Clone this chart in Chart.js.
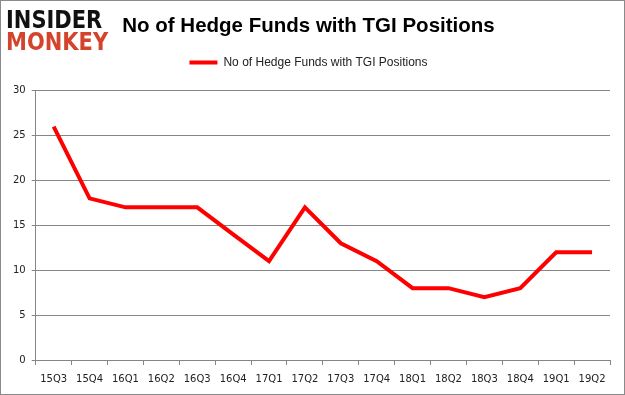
<!DOCTYPE html>
<html>
<head>
<meta charset="utf-8">
<script src="https://cdn.jsdelivr.net/npm/chart.js@4"></script>
<style>
  html, body { margin: 0; padding: 0; background: #fff; }
  #wrap { position: relative; width: 625px; height: 395px; box-sizing: border-box; border: 1px solid #8a8a8a; }
  #grafico { display: block; }
  .logo { position: absolute; left: 5px; font-family: "DejaVu Sans", sans-serif; font-weight: bold; font-size: 25px; line-height: 22px; transform: scaleX(0.84); transform-origin: left top; }
  #logo1 { top: 8px; color: #111; }
  #logo2 { top: 30px; color: #d4432c; }
</style>
</head>
<body>
<div id="wrap">
  <canvas id="grafico" width="623" height="393"></canvas>
  <div class="logo" id="logo1">INSIDER</div>
  <div class="logo" id="logo2">MONKEY</div>
</div>
<script>
  // Dados do gráfico
  const trimestres = ['15Q3', '15Q4', '16Q1', '16Q2', '16Q3', '16Q4', '17Q1', '17Q2',
                      '17Q3', '17Q4', '18Q1', '18Q2', '18Q3', '18Q4', '19Q1', '19Q2'];
  const fundos = [26, 18, 17, 17, 17, 14, 11, 17, 13, 11, 8, 8, 7, 8, 12, 12];
  const rotuloSerie = 'No of Hedge Funds with TGI Positions';
  const tituloGrafico = 'No of Hedge Funds with TGI Positions';

  const corEixo = '#868686';
  const fonteTicks = { family: 'DejaVu Sans', size: 10 };

  // Espaço extra abaixo da legenda
  const espacoLegenda = {
    id: 'espacoLegenda',
    beforeInit(chart) {
      const fitOriginal = chart.legend.fit;
      chart.legend.fit = function() {
        fitOriginal.bind(chart.legend)();
        this.height += 12;
      };
    }
  };

  const ctx = document.getElementById('grafico').getContext('2d');
  const chart = new Chart(ctx, {
    type: 'line',
    data: {
      labels: trimestres,
      datasets: [{
        label: rotuloSerie,
        data: fundos,
        borderColor: '#ff0000',
        backgroundColor: '#ff0000',
        borderWidth: 4,
        pointRadius: 0,
        fill: false,
        tension: 0
      }]
    },
    options: {
      responsive: false,
      animation: false,
      layout: { padding: { left: 6, right: 14, top: 0, bottom: 1 } },
      plugins: {
        title: {
          display: true,
          text: tituloGrafico,
          color: '#000',
          font: { family: 'Liberation Sans', size: 20.5, weight: 'bold' },
          padding: { top: 13, bottom: 8 }
        },
        legend: {
          display: true,
          labels: {
            usePointStyle: true,
            pointStyle: 'line',
            pointStyleWidth: 28,
            boxWidth: 28,
            color: '#222',
            font: { family: 'Liberation Sans', size: 12 },
            padding: 10
          }
        },
        tooltip: { enabled: false }
      },
      scales: {
        x: {
          offset: true,
          grid: { offset: true, drawOnChartArea: false, drawTicks: true, tickLength: 5, color: corEixo },
          border: { color: corEixo },
          ticks: { color: '#222', font: fonteTicks, maxRotation: 0, autoSkip: false, padding: 8 }
        },
        y: {
          min: 0,
          max: 30,
          ticks: { stepSize: 5, color: '#222', font: fonteTicks, padding: 6 },
          grid: { color: corEixo, tickLength: 4 },
          border: { color: corEixo }
        }
      }
    },
    plugins: [espacoLegenda]
  });
</script>
</body>
</html>
